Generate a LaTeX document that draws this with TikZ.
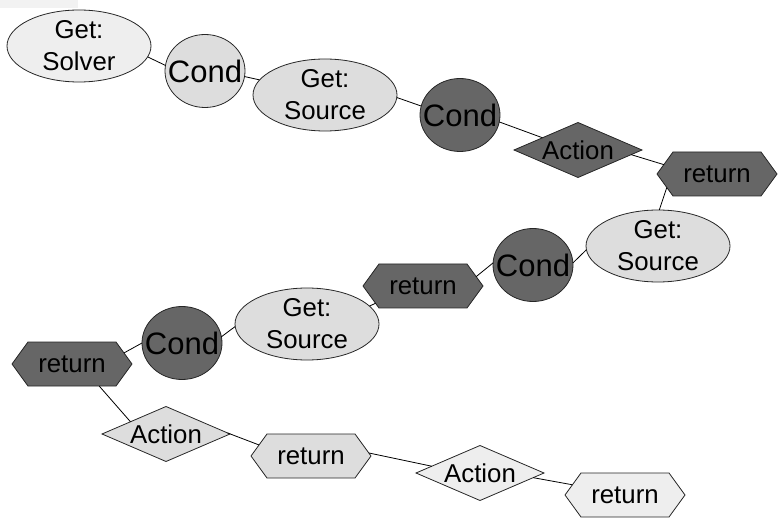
\documentclass[tikz,border=0pt]{standalone}
\usepackage{fontspec}
\setmainfont{Liberation Sans}
\usetikzlibrary{shapes.geometric,shapes.symbols}
\definecolor{darkf}{HTML}{666666}
\definecolor{lightf}{HTML}{DDDDDD}
\definecolor{paler}{HTML}{EEEEEE}
\definecolor{barf}{HTML}{F2F2F2}
\begin{document}
\begin{tikzpicture}[x=1pt,y=-1pt,
  base/.style={draw=black!85, line width=0.8pt, inner sep=0pt, outer sep=0pt},
  txt/.style={font=\fontsize{25.8}{32}\selectfont, align=center, inner sep=0pt},
  bigtxt/.style={font=\fontsize{31}{36}\selectfont, inner sep=0pt},
  ell/.style={base, ellipse, minimum width=144pt, minimum height=72pt},
  cnd/.style={base, ellipse, minimum width=80pt, minimum height=73pt},
  dia/.style={base, diamond, minimum width=128pt, minimum height=55pt},
  hex/.style={base, signal, signal to=west and east, signal pointer angle=108, minimum width=120pt, minimum height=44pt},
  link/.style={line width=0.8pt, draw=black}]
\useasboundingbox (0,0) rectangle (779,529);
\fill[barf] (0,0) rectangle (78,8);
% nodes
\node[ell, fill=paler, label={[txt]center:{Get:\\Solver}}] (solver) at (79,46) {};
\node[cnd, fill=lightf, label={[bigtxt]center:Cond}] (c1) at (205,71) {};
\node[ell, fill=lightf, label={[txt]center:{Get:\\Source}}] (src1) at (325,95) {};
\node[cnd, fill=darkf, label={[bigtxt]center:Cond}] (c2) at (460,115) {};
\node[dia, fill=darkf, label={[txt]center:Action}] (a1) at (578,150) {};
\node[hex, fill=darkf, label={[txt]center:return}] (r1) at (717,174) {};
\node[ell, fill=lightf, label={[txt]center:{Get:\\Source}}] (src2) at (658,246) {};
\node[cnd, fill=darkf, label={[bigtxt]center:Cond}] (c3) at (533,265) {};
\node[hex, fill=darkf, label={[txt]center:return}] (r2) at (423,286) {};
\node[ell, fill=lightf, label={[txt]center:{Get:\\Source}}] (src3) at (307,324) {};
\node[cnd, fill=darkf, label={[bigtxt]center:Cond}] (c4) at (182,343) {};
\node[hex, fill=darkf, label={[txt]center:return}] (r3) at (72,364) {};
\node[dia, fill=lightf, label={[txt]center:Action}] (a2) at (166,434) {};
\node[hex, fill=lightf, label={[txt]center:return}] (r4) at (311,456) {};
\node[dia, fill=paler, label={[txt]center:Action}] (a3) at (480,473) {};
\node[hex, fill=paler, label={[txt]center:return}] (r5) at (625,495) {};
% connectors
\draw[link] (solver.-9) -- (c1.172);
\draw[link] (c1.-8) -- (src1.167);
\draw[link] (src1.-2) -- (c2.167);
\draw[link] (c2.-10) -- (a1.161);
\draw[link] (a1.-5) -- (r1.170);
\draw[link] (r1.195) -- (src2.88);
\draw[link] (src2.183) -- (c3.3);
\draw[link] (c3.177) -- (r2.10);
\draw[link] (r2.200) -- (src3.16);
\draw[link] (src3.182) -- (c4.9);
\draw[link] (c4.180) -- (r3.12);
\draw[link] (r3.-39) -- (a2.161);
\draw[link] (a2.1) -- (r4.168);
\draw[link] (r4.3) -- (a3.172);
\draw[link] (a3.-5) -- (r5.169);
\end{tikzpicture}
\end{document}
